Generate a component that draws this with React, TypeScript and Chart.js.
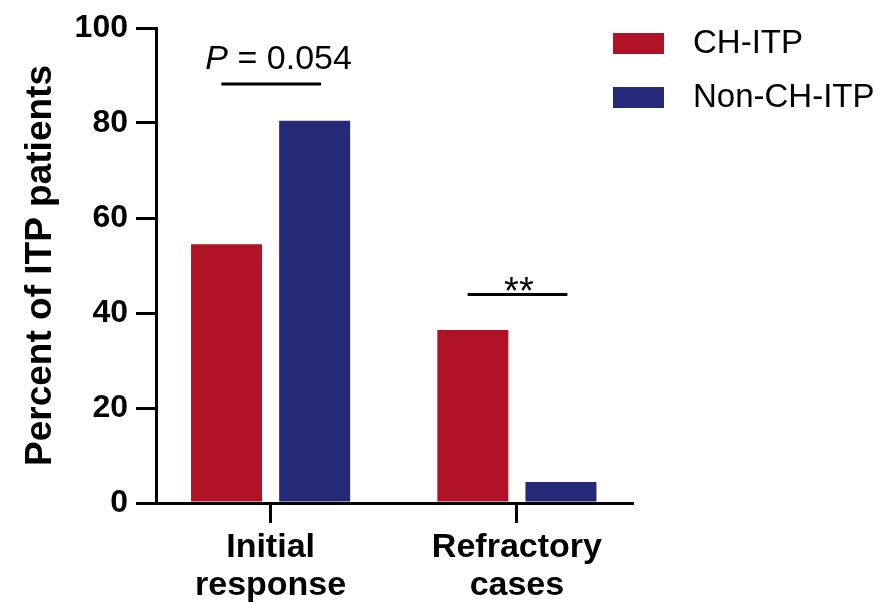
import React, { useEffect, useRef } from 'react';
import { Chart, registerables } from 'chart.js';

Chart.register(...registerables);

// Groups on the x axis (positions 1 and 2) and their two-line labels
const groups = [1, 2];
const groupLabels = [['Initial', 'response'], ['Refractory', 'cases']];

// Series
const seriesNames = ['CH-ITP', 'Non-CH-ITP'];
const chItp = [54.5, 36.4];
const nonChItp = [80.5, 4.4];
const seriesColors = ['#B01226', '#252A78'];

// Y axis
const yMin = 0;
const yMax = 100;
const yStep = 20;
const yTitle = 'Percent of ITP patients';

// Significance brackets: level (in %) and label for each group
const bracketLevels = [88.2, 43.9];
const bracketItalic = ['P', ''];
const bracketText = [' = 0.054', '**'];

const FONT = "'Liberation Sans', Arial, Helvetica, sans-serif";

const bracketPlugin = {
  id: 'bracketPlugin',
  afterDraw(chart: any) {
    const { ctx } = chart;
    const x = chart.scales.x;
    const y = chart.scales.y;
    ctx.save();
    ctx.strokeStyle = '#000';
    ctx.fillStyle = '#000';
    ctx.lineWidth = 3;
    groups.forEach((g, i) => {
      const x1 = x.getPixelForValue(g - 0.2);
      const x2 = x.getPixelForValue(g + 0.205);
      const yy = y.getPixelForValue(bracketLevels[i]);
      ctx.beginPath();
      ctx.moveTo(x1, yy);
      ctx.lineTo(x2, yy);
      ctx.stroke();

      ctx.textBaseline = 'alphabetic';
      if (bracketItalic[i]) {
        const italicFont = `italic 34px ${FONT}`;
        const plainFont = `34px ${FONT}`;
        ctx.font = italicFont;
        const w1 = ctx.measureText(bracketItalic[i]).width;
        ctx.font = plainFont;
        const w2 = ctx.measureText(bracketText[i]).width;
        const cx = x.getPixelForValue(g) + 8;
        const left = cx - (w1 + w2) / 2;
        const base = yy - 15;
        ctx.textAlign = 'left';
        ctx.font = italicFont;
        ctx.fillText(bracketItalic[i], left, base);
        ctx.font = plainFont;
        ctx.fillText(bracketText[i], left + w1, base);
      } else {
        ctx.font = `38px ${FONT}`;
        ctx.textAlign = 'center';
        ctx.fillText(bracketText[i], x.getPixelForValue(g) + 2, yy + 10);
      }
    });
    ctx.restore();
  },
};

const legendPlugin = {
  id: 'sideLegend',
  afterDraw(chart: any) {
    const { ctx } = chart;
    const left = chart.chartArea.right + (613 - 632);
    ctx.save();
    ctx.font = `33px ${FONT}`;
    ctx.textAlign = 'left';
    ctx.textBaseline = 'middle';
    chart.data.datasets.forEach((ds: any, i: number) => {
      const top = 33 + i * 54;
      ctx.fillStyle = ds.backgroundColor;
      ctx.fillRect(left, top, 51, 21);
      ctx.fillStyle = '#000';
      ctx.fillText(ds.label, left + 80, top + 11);
    });
    ctx.restore();
  },
};

export default function App() {
  const canvasRef = useRef<HTMLCanvasElement | null>(null);

  useEffect(() => {
    const canvas = canvasRef.current;
    if (!canvas) return;
    const barOpts = { categoryPercentage: 0.7154, barPercentage: 0.806, borderWidth: 0 };
    const chart = new Chart(canvas, {
      type: 'bar',
      data: {
        datasets: [
          {
            label: seriesNames[0],
            data: groups.map((g, i) => ({ x: g, y: chItp[i] })),
            backgroundColor: seriesColors[0],
            ...barOpts,
          },
          {
            label: seriesNames[1],
            data: groups.map((g, i) => ({ x: g, y: nonChItp[i] })),
            backgroundColor: seriesColors[1],
            ...barOpts,
          },
        ],
      },
      options: {
        animation: false,
        responsive: false,
        maintainAspectRatio: false,
        layout: { padding: { left: 0, right: 257, top: 28, bottom: 0 } },
        plugins: {
          legend: { display: false },
          tooltip: { enabled: false },
        },
        scales: {
          x: {
            type: 'linear',
            min: 0.5347,
            max: 2.4673,
            offset: false,
            afterBuildTicks: (s: any) => {
              s.ticks = groups.map((v) => ({ value: v }));
            },
            afterFit: (s: any) => {
              s.height = 100;
            },
            ticks: {
              callback: (v: any) => groupLabels[groups.indexOf(v)],
              color: '#000',
              font: { family: FONT, size: 34, weight: 'bold', lineHeight: 1.13 },
              padding: 5,
              maxRotation: 0,
              autoSkip: false,
            },
            grid: {
              offset: false,
              drawOnChartArea: false,
              drawTicks: true,
              tickLength: 20,
              lineWidth: 3,
              color: '#000',
            },
            border: { display: true, color: '#000', width: 3 },
          },
          y: {
            min: yMin,
            max: yMax,
            afterFit: (s: any) => {
              s.width = 156;
            },
            ticks: {
              stepSize: yStep,
              color: '#000',
              font: { family: FONT, size: 32, weight: 'bold' },
              padding: 8,
            },
            grid: {
              drawOnChartArea: false,
              drawTicks: true,
              tickLength: 20,
              lineWidth: 3,
              color: '#000',
            },
            border: { display: true, color: '#000', width: 3 },
            title: {
              display: true,
              text: yTitle,
              color: '#000',
              font: { family: FONT, size: 37, weight: 'bold', lineHeight: 1.2 },
              padding: { top: 19, bottom: 0 },
            },
          },
        },
      } as any,
      plugins: [bracketPlugin, legendPlugin],
    });
    return () => chart.destroy();
  }, []);

  return (
    <div style={{ position: 'absolute', left: 0, top: 0, width: 889, height: 603, background: '#fff' }}>
      <canvas ref={canvasRef} width={889} height={603} style={{ display: 'block' }} />
    </div>
  );
}
